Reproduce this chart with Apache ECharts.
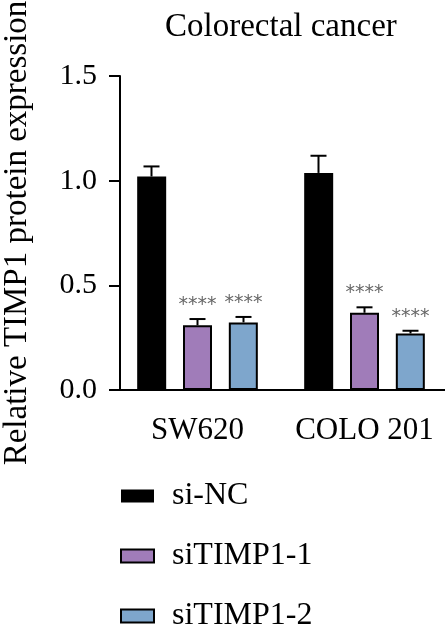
<!DOCTYPE html>
<html>
<head>
<meta charset="utf-8">
<script src="https://cdn.jsdelivr.net/npm/echarts@6/dist/echarts.min.js"></script>
<style>
  html, body { margin: 0; padding: 0; background: #fff; }
  #container { width: 445px; height: 637px; }
</style>
</head>
<body>
<div id="container"></div>
<script>
const categories = ["SW620", "COLO 201"];
const groups = ["si-NC", "siTIMP1-1", "siTIMP1-2"];
const siNC = [1.02, 1.037];
const siTIMP1_1 = [0.309, 0.369];
const siTIMP1_2 = [0.323, 0.27];
const errNC = [0.048, 0.082];
const err1 = [0.03, 0.026];
const err2 = [0.026, 0.013];
const sig1 = ["****", "****"];
const sig2 = ["****", "****"];

const font = "Liberation Serif";
const colors = ["#000000", "#a07cb9", "#7ea6cc"];
const barOffsets = [-46, 0, 46];

const dom = document.getElementById("container");
const myChart = echarts.init(dom, null, { renderer: "canvas" });

function errorSeries(idx, means, errs, sigs) {
  return {
    type: "custom",
    z: 5,
    data: means.map((m, i) => [i, m, errs[i], sigs ? sigs[i] : ""]),
    renderItem: function (params, api) {
      const top = api.coord([api.value(0), api.value(1) + api.value(2)]);
      const base = api.coord([api.value(0), api.value(1)]);
      const x = top[0] + barOffsets[idx];
      const children = [
        {
          type: "line",
          shape: { x1: x, y1: base[1], x2: x, y2: top[1] },
          style: { stroke: "#000", lineWidth: 2 },
        },
        {
          type: "line",
          shape: { x1: x - 8, y1: top[1], x2: x + 8, y2: top[1] },
          style: { stroke: "#000", lineWidth: 2 },
        },
      ];
      const s = api.value(3);
      if (s) {
        children.push({
          type: "text",
          x: x,
          y: top[1] - 14,
          style: {
            text: s,
            fontFamily: "DejaVu Sans",
            fontSize: 19,
            fill: "#666",
            align: "center",
            verticalAlign: "middle",
          },
        });
      }
      return { type: "group", children: children };
    },
  };
}

function barSeries(idx, values) {
  return {
    name: groups[idx],
    type: "bar",
    data: values,
    barWidth: 29,
    barGap: "58%",
    itemStyle: {
      color: colors[idx],
      borderColor: "#000",
      borderWidth: idx === 0 ? 0 : 2,
    },
  };
}

const option = {
  animation: false,
  title: {
    text: "Colorectal cancer",
    left: 165,
    top: 11,
    padding: 0,
    textStyle: { fontFamily: font, fontSize: 33, fontWeight: "normal", color: "#000" },
  },
  legend: {
    data: groups,
    orient: "vertical",
    left: 120,
    top: 480,
    height: 160,
    padding: 0,
    itemWidth: 33,
    itemHeight: 13,
    itemGap: 28,
    icon: "rect",
    textStyle: { fontFamily: font, fontSize: 32, color: "#000", padding: [0, 0, 0, 13] },
  },
  grid: {
    left: 114,
    width: 334,
    top: 76,
    bottom: 247,
    containLabel: false,
    outerBoundsMode: "none",
  },
  xAxis: {
    type: "category",
    data: categories,
    axisLine: { lineStyle: { color: "#000", width: 2 } },
    axisTick: { alignWithLabel: true, length: 12, lineStyle: { color: "#000", width: 2 } },
    axisLabel: { interval: 0, fontFamily: font, fontSize: 31, color: "#000", margin: 25 },
  },
  yAxis: {
    type: "value",
    min: 0,
    max: 1.5,
    interval: 0.5,
    offset: -6,
    name: "Relative TIMP1 protein expression",
    nameLocation: "middle",
    nameGap: 86,
    nameTextStyle: { fontFamily: font, fontSize: 33, color: "#000" },
    axisLine: { show: true, lineStyle: { color: "#000", width: 2 } },
    axisTick: { show: true, length: 11, lineStyle: { color: "#000", width: 2 } },
    axisLabel: {
      fontFamily: font,
      fontSize: 30,
      color: "#000",
      margin: 23,
      formatter: (v) => v.toFixed(1),
    },
    splitLine: { show: false },
  },
  series: [
    barSeries(0, siNC),
    barSeries(1, siTIMP1_1),
    barSeries(2, siTIMP1_2),
    errorSeries(0, siNC, errNC, null),
    errorSeries(1, siTIMP1_1, err1, sig1),
    errorSeries(2, siTIMP1_2, err2, sig2),
  ],
};

myChart.setOption(option);
window.addEventListener("resize", myChart.resize);
</script>
</body>
</html>
